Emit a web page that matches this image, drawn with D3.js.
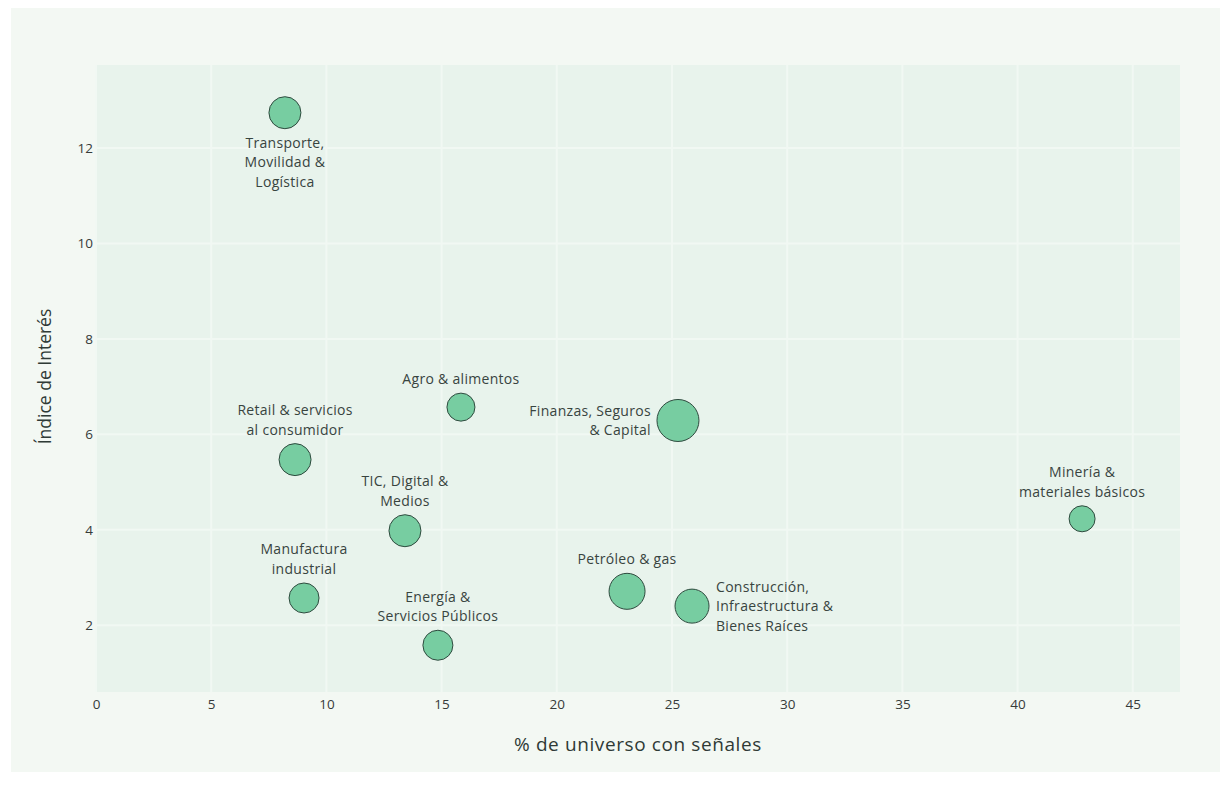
<!DOCTYPE html>
<html>
<head>
<meta charset="utf-8">
<script src="https://cdn.jsdelivr.net/npm/d3@7"></script>
<style>
  body { margin: 0; background: #ffffff; }
  text { font-family: "Open Sans", "Noto Sans", sans-serif; }
</style>
</head>
<body>
<script>
const width = 1229;
const height = 800;

// data
const sectors = [
  "Transporte,|Movilidad &|Logística",
  "Retail & servicios|al consumidor",
  "Agro & alimentos",
  "Finanzas, Seguros|& Capital",
  "TIC, Digital &|Medios",
  "Manufactura|industrial",
  "Energía &|Servicios Públicos",
  "Petróleo & gas",
  "Construcción,|Infraestructura &|Bienes Raíces",
  "Minería &|materiales básicos"
];
const pctUniverse = [8.2, 8.64, 15.84, 25.26, 13.41, 9.03, 14.84, 23.05, 25.87, 42.8];
const interestIndex = [12.74, 5.47, 6.57, 6.29, 3.98, 2.57, 1.58, 2.71, 2.40, 4.23];
const bubbleSize = [256, 256, 196, 441, 256, 225, 225, 324, 289, 169];
const labelSide = ["bottom", "top", "top", "left", "top", "top", "top", "top", "right", "top"];
const xTicks = [0, 5, 10, 15, 20, 25, 30, 35, 40, 45];
const yTicks = [2, 4, 6, 8, 10, 12];

const margin = { top: 65, right: 49, bottom: 108, left: 96 };
const plotW = width - margin.left - margin.right;
const plotH = height - margin.top - margin.bottom;

const svg = d3.select("body").append("svg")
  .attr("width", width)
  .attr("height", height);

// outer panel
svg.append("rect")
  .attr("x", 11).attr("y", 8)
  .attr("width", 1209).attr("height", 764)
  .attr("fill", "#f3f8f3");

const g = svg.append("g")
  .attr("transform", `translate(${margin.left},${margin.top})`);

const x = d3.scaleLinear().domain([0, 47.05]).range([0, plotW]);
const y = d3.scaleLinear().domain([0.6, 13.74]).range([plotH, 0]);
const r = d3.scaleSqrt().domain([0, d3.max(bubbleSize)]).range([0, 21]);

g.append("rect")
  .attr("width", plotW).attr("height", plotH)
  .attr("fill", "#e8f3ec");

// grid
g.append("g")
  .selectAll("line")
  .data(xTicks)
  .join("line")
  .attr("x1", d => x(d)).attr("x2", d => x(d))
  .attr("y1", 0).attr("y2", plotH)
  .attr("stroke", "#f1f8f3")
  .attr("stroke-width", 2);

g.append("g")
  .selectAll("line")
  .data(yTicks)
  .join("line")
  .attr("x1", 0).attr("x2", plotW)
  .attr("y1", d => y(d)).attr("y2", d => y(d))
  .attr("stroke", "#f1f8f3")
  .attr("stroke-width", 2);

// axes
const xAxis = g.append("g")
  .attr("transform", `translate(0,${plotH})`)
  .call(d3.axisBottom(x).tickValues(xTicks).tickSize(0).tickPadding(7));
const yAxis = g.append("g")
  .call(d3.axisLeft(y).tickValues(yTicks).tickSize(0).tickPadding(3));

[xAxis, yAxis].forEach(a => {
  a.select(".domain").remove();
  a.selectAll("text")
    .attr("fill", "#363b39")
    .style("font-size", "13.5px")
    .style("font-family", "'Open Sans', sans-serif");
});

// axis titles
svg.append("text")
  .attr("x", margin.left + plotW / 2)
  .attr("y", 751)
  .attr("text-anchor", "middle")
  .attr("fill", "#2f3a36")
  .style("font-size", "19px")
  .style("letter-spacing", "0.6px")
  .text("% de universo con señales");

svg.append("text")
  .attr("transform", `translate(51,${margin.top + plotH / 2 - 2}) rotate(-90)`)
  .attr("text-anchor", "middle")
  .attr("fill", "#2f3a36")
  .style("font-size", "17.5px")
  .text("Índice de Interés");

const data = sectors.map((s, i) => ({
  name: s,
  x: pctUniverse[i],
  y: interestIndex[i],
  size: bubbleSize[i],
  side: labelSide[i]
}));

// bubbles
g.append("g")
  .selectAll("circle")
  .data(data)
  .join("circle")
  .attr("cx", d => x(d.x))
  .attr("cy", d => y(d.y))
  .attr("r", d => r(d.size))
  .attr("fill", "#77cda1")
  .attr("stroke", "#2e4a3e")
  .attr("stroke-width", 1);

// labels
const lineH = 19.5;
const labels = g.append("g")
  .selectAll("text")
  .data(data)
  .join("text")
  .attr("fill", "#38443f")
  .style("font-size", "14px")
  .style("letter-spacing", "0.3px")
  .attr("text-anchor", d => d.side === "left" ? "end" : d.side === "right" ? "start" : "middle");

labels.each(function (d) {
  const lines = d.name.split("|");
  const cx = x(d.x), cy = y(d.y), rad = r(d.size);
  let x0 = cx, y0;
  if (d.side === "top") {
    y0 = cy - rad - 9 - (lines.length - 1) * lineH;
  } else if (d.side === "bottom") {
    y0 = cy + rad + 19;
  } else {
    x0 = d.side === "left" ? cx - rad - 6 : cx + rad + 7;
    y0 = cy + 5 - (lines.length - 1) * lineH / 2;
  }
  d3.select(this).selectAll("tspan")
    .data(lines)
    .join("tspan")
    .attr("x", x0)
    .attr("y", (l, i) => y0 + i * lineH)
    .text(l => l);
});
</script>
</body>
</html>
